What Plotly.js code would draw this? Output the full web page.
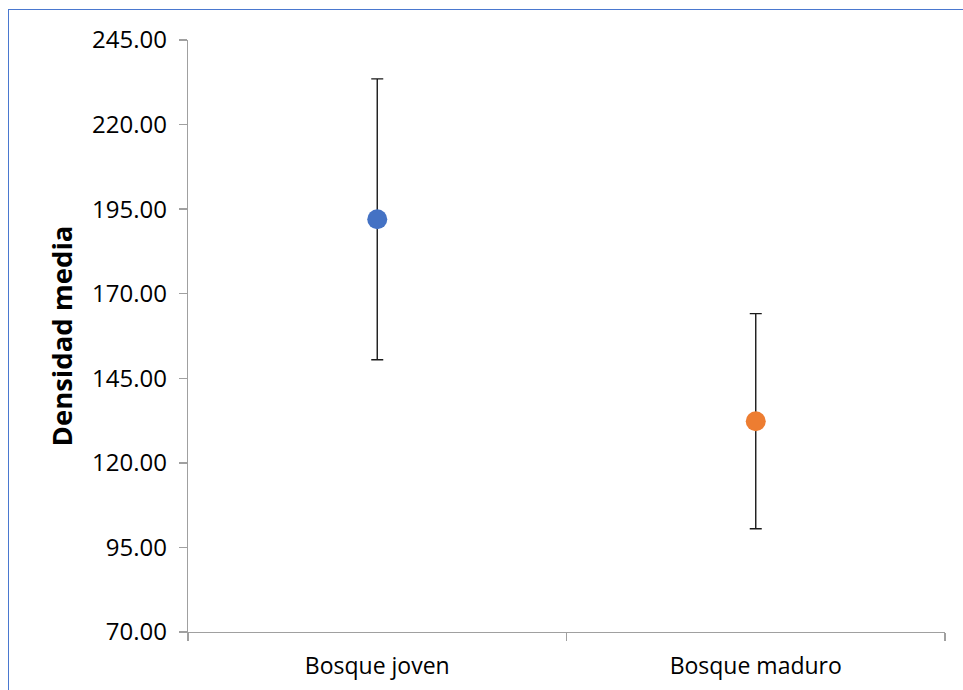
<!DOCTYPE html>
<html>
<head>
<meta charset="utf-8">
<script src="https://cdn.plot.ly/plotly-3.0.1.min.js"></script>
<style>
html,body{margin:0;padding:0;background:#fff;}
#wrap{position:relative;width:963px;height:690px;overflow:hidden;}
#chart{position:absolute;left:0;top:0;width:963px;height:690px;}
#frame{position:absolute;left:8px;top:9px;width:1000px;height:700px;border-top:1.5px solid #4a78cf;border-left:1.5px solid #4a78cf;pointer-events:none;}
</style>
</head>
<body>
<div id="wrap"><div id="chart"></div><div id="frame"></div></div>
<script>
const categories = ["Bosque joven", "Bosque maduro"];
const means = [192.0, 132.3];
const errors = [41.5, 31.8];
const colors = ["#4472C4", "#ED7D31"];
const tickValues = [70, 95, 120, 145, 170, 195, 220, 245];
const tickLabels = ["70.00", "95.00", "120.00", "145.00", "170.00", "195.00", "220.00", "245.00"];

const trace = {
  type: "scatter",
  mode: "markers",
  x: categories,
  y: means,
  marker: {size: 20, color: colors},
  error_y: {type: "data", array: errors, visible: true, color: "#1a1a1a", thickness: 1.4, width: 6},
  hoverinfo: "x+y",
  showlegend: false
};

const layout = {
  width: 963,
  height: 690,
  margin: {l: 188, r: 18, t: 40, b: 58, pad: 0},
  paper_bgcolor: "#ffffff",
  plot_bgcolor: "#ffffff",
  font: {family: "'Open Sans', 'Noto Sans', sans-serif", color: "#000"},
  xaxis: {
    type: "category",
    range: [-0.5, 1.5],
    showgrid: false,
    zeroline: false,
    showline: true,
    linecolor: "#a0a0a0",
    linewidth: 1.3,
    ticks: "outside",
    tickson: "boundaries",
    ticklen: 8,
    tickcolor: "#a0a0a0",
    tickwidth: 1.3,
    tickfont: {size: 23, color: "#000"},
    ticklabelstandoff: 13
  },
  yaxis: {
    range: [70, 245],
    tickvals: tickValues,
    ticktext: tickLabels,
    showgrid: false,
    zeroline: false,
    showline: true,
    linecolor: "#a0a0a0",
    linewidth: 1.3,
    ticks: "outside",
    ticklen: 8,
    tickcolor: "#a0a0a0",
    tickwidth: 1.3,
    tickfont: {size: 24, color: "#000"},
    ticklabelstandoff: 7,
    title: {text: "<b>Densidad media</b>", font: {size: 27.5, color: "#000"}, standoff: 11}
  }
};

Plotly.newPlot("chart", [trace], layout, {displayModeBar: false, staticPlot: true});
</script>
</body>
</html>
